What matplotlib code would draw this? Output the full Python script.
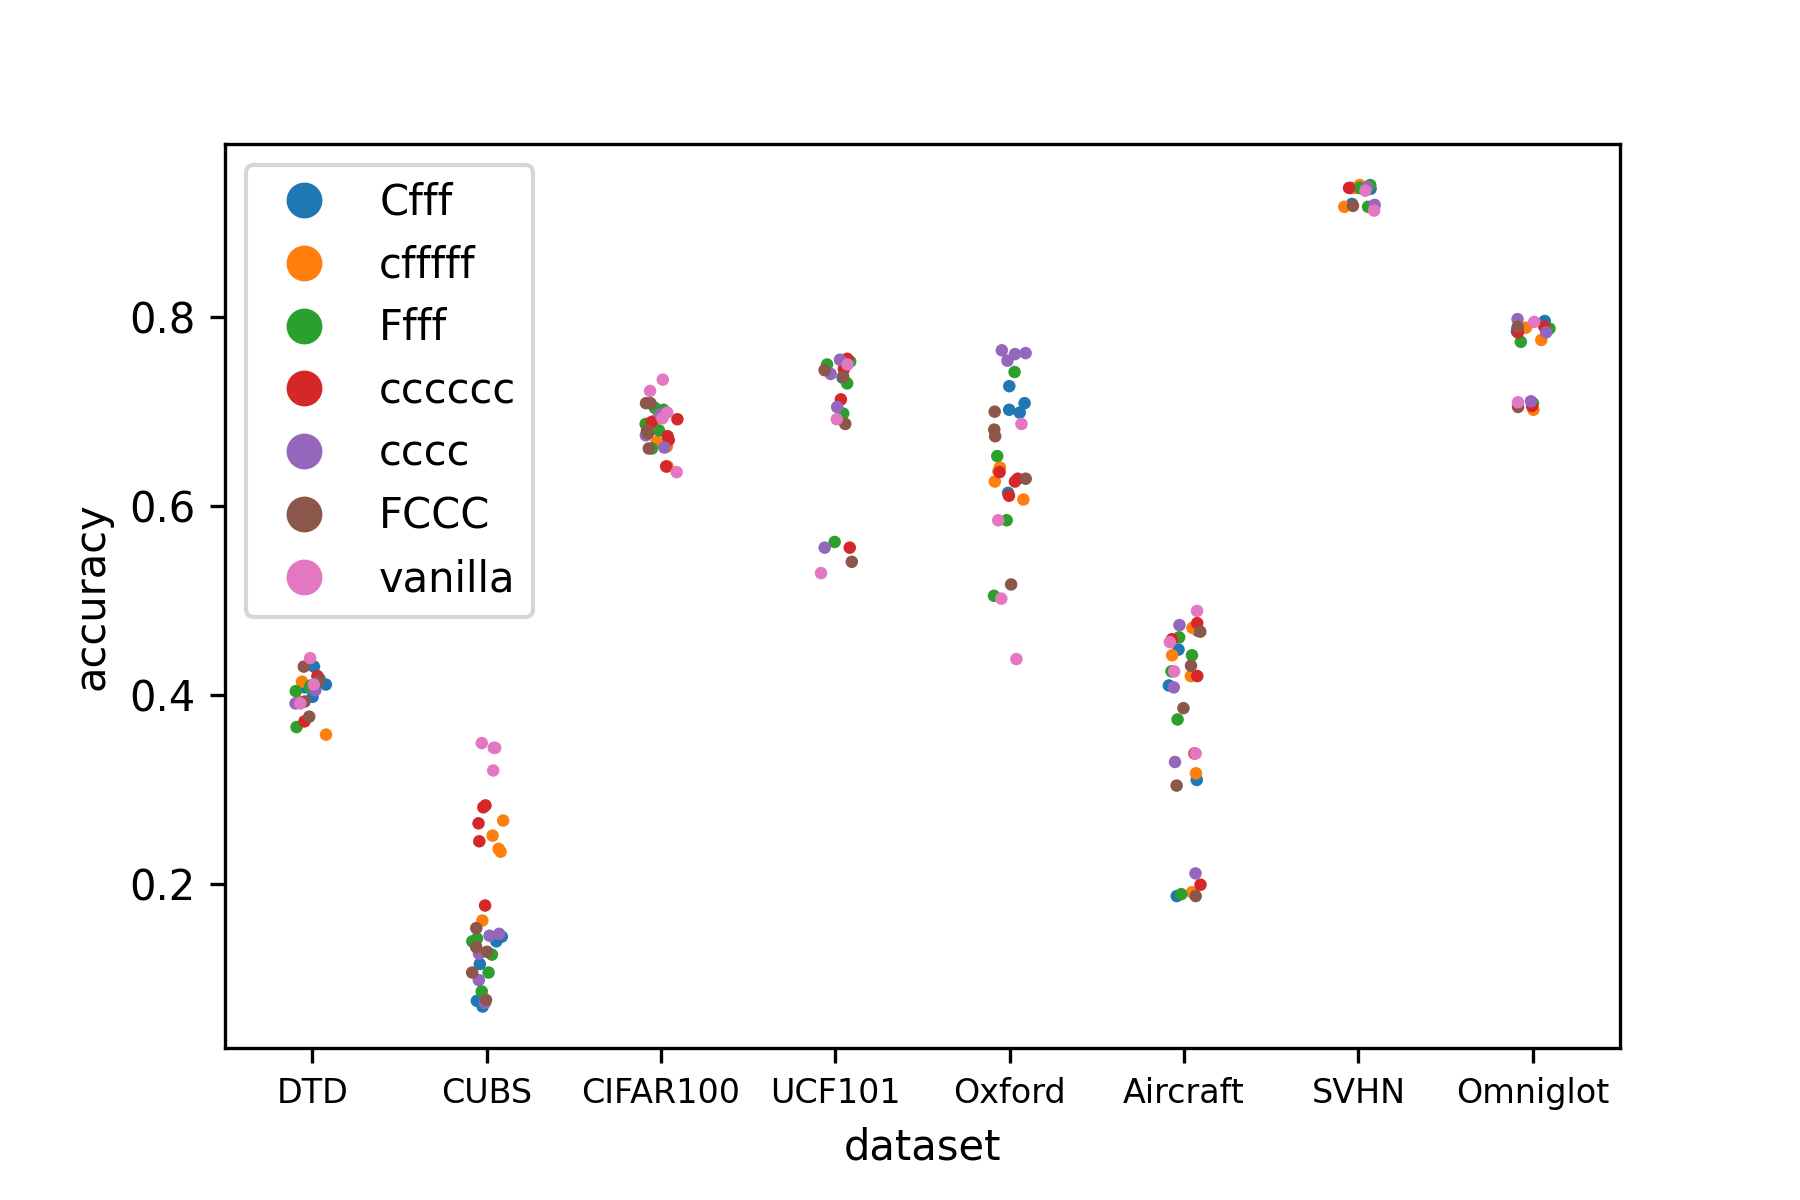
import numpy as np
import pandas as pd
import matplotlib
matplotlib.use("Agg")
import matplotlib.pyplot as plt
from matplotlib.lines import Line2D
import seaborn as sns

datasets = ["DTD", "CUBS", "CIFAR100", "UCF101", "Oxford", "Aircraft", "SVHN", "Omniglot"]
methods = ["Cfff", "cfffff", "Ffff", "cccccc", "cccc", "FCCC", "vanilla"]

Cfff = {
    "DTD": [0.430, 0.417, 0.408, 0.398, 0.411],
    "CUBS": [0.139, 0.115, 0.076, 0.070, 0.144],
    "CIFAR100": [],
    "UCF101": [0.736],
    "Oxford": [0.727, 0.709, 0.699, 0.702, 0.614],
    "Aircraft": [0.468, 0.448, 0.410, 0.310, 0.187],
    "SVHN": [0.936, 0.920, 0.937],
    "Omniglot": [0.796, 0.785, 0.787],
}
cfffff = {
    "DTD": [0.358, 0.393, 0.414],
    "CUBS": [0.267, 0.251, 0.234, 0.237, 0.161],
    "CIFAR100": [0.642, 0.668, 0.663, 0.691],
    "UCF101": [],
    "Oxford": [0.641, 0.637, 0.626, 0.607],
    "Aircraft": [0.471, 0.442, 0.420, 0.317, 0.191],
    "SVHN": [0.937, 0.940, 0.917],
    "Omniglot": [0.776, 0.789, 0.702],
}
Ffff = {
    "DTD": [0.366, 0.408, 0.404, 0.410],
    "CUBS": [0.139, 0.125, 0.106, 0.086, 0.142],
    "CIFAR100": [0.702, 0.704, 0.680, 0.687, 0.661],
    "UCF101": [0.750, 0.753, 0.730, 0.698, 0.562],
    "Oxford": [0.742, 0.653, 0.585, 0.505],
    "Aircraft": [0.461, 0.442, 0.425, 0.374, 0.189],
    "SVHN": [0.940, 0.937, 0.917],
    "Omniglot": [0.774, 0.788, 0.709],
}
cccccc = {
    "DTD": [0.420, 0.372, 0.415],
    "CUBS": [0.281, 0.283, 0.264, 0.245, 0.177],
    "CIFAR100": [0.692, 0.689, 0.674, 0.642, 0.670],
    "UCF101": [0.756, 0.745, 0.713, 0.556],
    "Oxford": [0.636, 0.629, 0.626, 0.611],
    "Aircraft": [0.476, 0.459, 0.420, 0.338, 0.199],
    "SVHN": [0.937],
    "Omniglot": [0.790, 0.784, 0.706],
}
cccc = {
    "DTD": [0.405, 0.391, 0.411],
    "CUBS": [0.147, 0.145, 0.126, 0.098, 0.074],
    "CIFAR100": [0.697, 0.662, 0.675],
    "UCF101": [0.755, 0.740, 0.705, 0.556],
    "Oxford": [0.765, 0.761, 0.762, 0.754],
    "Aircraft": [0.474, 0.408, 0.329, 0.211],
    "SVHN": [0.919, 0.938],
    "Omniglot": [0.798, 0.784, 0.711],
}
FCCC = {
    "DTD": [0.430, 0.377, 0.393, 0.415],
    "CUBS": [0.153, 0.133, 0.128, 0.106, 0.077],
    "CIFAR100": [0.709, 0.709, 0.661, 0.680, 0.677],
    "UCF101": [0.744, 0.737, 0.687, 0.541],
    "Oxford": [0.700, 0.681, 0.674, 0.629, 0.517],
    "Aircraft": [0.467, 0.431, 0.386, 0.304, 0.187],
    "SVHN": [0.918],
    "Omniglot": [0.790, 0.705],
}
vanilla = {
    "DTD": [0.439, 0.391, 0.411],
    "CUBS": [0.349, 0.344, 0.344, 0.320],
    "CIFAR100": [0.734, 0.722, 0.636, 0.699, 0.693],
    "UCF101": [0.750, 0.692, 0.529],
    "Oxford": [0.687, 0.585, 0.502, 0.438],
    "Aircraft": [0.489, 0.456, 0.425, 0.338],
    "SVHN": [0.913, 0.934],
    "Omniglot": [0.795, 0.710],
}

series = [Cfff, cfffff, Ffff, cccccc, cccc, FCCC, vanilla]
colors = ["#1f77b4", "#ff7f0e", "#2ca02c", "#d62728", "#9467bd", "#8c564b", "#e377c2"]

rows = []
for m, s in zip(methods, series):
    for d in datasets:
        for v in s[d]:
            rows.append((d, m, v))
df = pd.DataFrame(rows, columns=["dataset", "method", "accuracy"])

np.random.seed(3)
fig = plt.figure(figsize=(6, 4), dpi=300)
ax = fig.add_subplot(111)
fig.subplots_adjust(left=0.125, right=0.9, top=0.88, bottom=0.127)
sns.stripplot(data=df, x="dataset", y="accuracy", hue="method",
              order=datasets, hue_order=methods, palette=colors,
              size=3, jitter=True, linewidth=0, ax=ax)
ax.tick_params(axis="x", labelsize=8)
ax.tick_params(axis="y", labelsize=10)
ax.set_xlabel("dataset", fontsize=10)
ax.set_ylabel("accuracy", fontsize=10)

handles = [Line2D([], [], linestyle="none", marker="o", markersize=8.6,
                  markerfacecolor=c, markeredgewidth=0) for c in colors]
if ax.get_legend() is not None:
    ax.get_legend().remove()
ax.legend(handles, methods, loc="upper left", fontsize=10)

fig.savefig("out.png", dpi=300)
